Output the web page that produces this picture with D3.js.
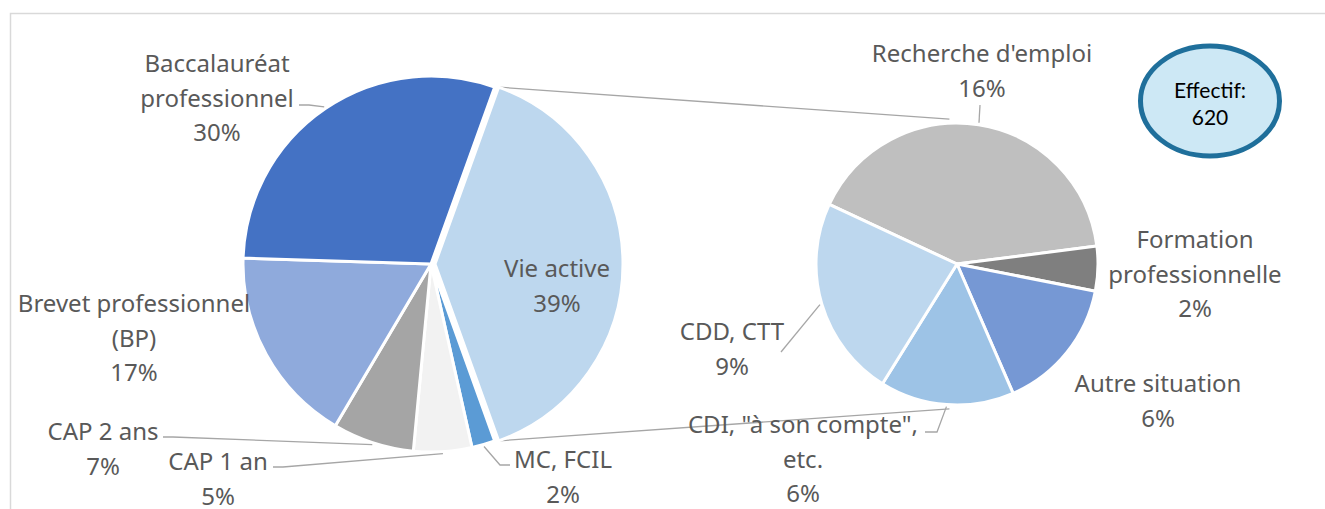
<!DOCTYPE html>
<html>
<head>
<meta charset="utf-8">
<script src="https://cdn.jsdelivr.net/npm/d3@7"></script>
<style>
  html, body { margin: 0; padding: 0; background: #fff; }
  svg { display: block; }
  .lbl { font-family: "Noto Sans", sans-serif; font-size: 24px; fill: #595959; }
  .eff { font-family: Lato, sans-serif; font-size: 21px; fill: #000; }
</style>
</head>
<body>
<svg id="chart" width="1325" height="509"></svg>
<script>
// first pie, clockwise from the "Vie active" slice
const leftCats = ['Vie active', 'MC, FCIL', 'CAP 1 an', 'CAP 2 ans', 'Brevet professionnel (BP)', 'Baccalauréat professionnel'];
const leftValues = [39, 2, 5, 7, 17, 30];
// second pie: breakdown of "Vie active"
const rightCats = ["Recherche d'emploi", 'Formation professionnelle', 'Autre situation', 'CDI, "à son compte", etc.', 'CDD, CTT'];
const rightValues = [16, 2, 6, 6, 9];
const effectif = 620;

const W = 1325, H = 509;
const svg = d3.select('#chart');

const leftColors = ['#BDD7EE', '#5B9BD5', '#F2F2F2', '#A5A5A5', '#8FAADC', '#4472C4'];
const rightColors = ['#BFBFBF', '#7F7F7F', '#7698D4', '#9DC3E6', '#BDD7EE'];

const L = { cx: 431, cy: 264, r: 188, explode: 4 };
const R = { cx: 957, cy: 264, r: 141 };

// label placement: centre x, first baseline, text lines
const layout = {
	'Vie active': { x: 557, y: 277, lines: ['Vie active'] },
	'MC, FCIL': { x: 563, y: 468, lines: ['MC, FCIL'], lead: [510, 465, -10] },
	'CAP 1 an': { x: 218, y: 470, lines: ['CAP 1 an'], lead: [273, 467, 10] },
	'CAP 2 ans': { x: 103, y: 440, lines: ['CAP 2 ans'], lead: [163, 437, 10] },
	'Brevet professionnel (BP)': { x: 134, y: 312, lines: ['Brevet professionnel', '(BP)'] },
	'Baccalauréat professionnel': { x: 217, y: 72, lines: ['Baccalauréat', 'professionnel'], lead: [299, 105, 10] },
	"Recherche d'emploi": { x: 982, y: 62, lines: ["Recherche d'emploi"], lead: [980, 105, 0] },
	'Formation professionnelle': { x: 1195, y: 248, lines: ['Formation', 'professionnelle'] },
	'Autre situation': { x: 1158, y: 392, lines: ['Autre situation'] },
	'CDI, "à son compte", etc.': { x: 803, y: 433, lines: ['CDI, "à son compte",', 'etc.'], lead: [925, 432, 12] },
	'CDD, CTT': { x: 732, y: 340, lines: ['CDD, CTT'], lead: [781, 352, 0] }
};
const LH = 34.5;

// chart frame
svg.append('rect')
	.attr('x', 10.5).attr('y', 13.5)
	.attr('width', W + 20).attr('height', H + 20)
	.attr('fill', 'none').attr('stroke', '#D9D9D9').attr('stroke-width', 1.5);

const total = d3.sum(leftValues);
const pct = d3.format('.0%');

const vieShare = leftValues[0] / total;
const leftPie = d3.pie().sort(null)
	.startAngle(Math.PI / 2 - vieShare * Math.PI)
	.endAngle(Math.PI / 2 - vieShare * Math.PI + 2 * Math.PI);
const rightStart = -65 * Math.PI / 180;
const rightPie = d3.pie().sort(null)
	.startAngle(rightStart).endAngle(rightStart + 2 * Math.PI);

const leftArcs = leftPie(leftValues).map((d, i) => ({ ...d, cat: leftCats[i], fill: leftColors[i] }));
const rightArcs = rightPie(rightValues).map((d, i) => ({ ...d, cat: rightCats[i], fill: rightColors[i] }));

const arcL = d3.arc().innerRadius(0).outerRadius(L.r);
const arcR = d3.arc().innerRadius(0).outerRadius(R.r);

const polar = (cx, cy, r, a) => [cx + r * Math.sin(a), cy - r * Math.cos(a)];

// connector lines between the two pies
const vie = leftArcs[0];
const vieMid = (vie.startAngle + vie.endAngle) / 2;
const ox = L.cx + L.explode * Math.sin(vieMid), oy = L.cy - L.explode * Math.cos(vieMid);
const conn = [
	[polar(ox, oy, L.r, vie.startAngle), polar(R.cx, R.cy, R.r + 4, -3 * Math.PI / 180)],
	[polar(ox, oy, L.r, vie.endAngle), polar(R.cx, R.cy, R.r + 4, 183 * Math.PI / 180)]
];
svg.append('g').selectAll('line').data(conn).join('line')
	.attr('x1', d => d[0][0]).attr('y1', d => d[0][1])
	.attr('x2', d => d[1][0]).attr('y2', d => d[1][1])
	.attr('stroke', '#A6A6A6').attr('stroke-width', 1.3);

// first pie
svg.append('g').selectAll('path').data(leftArcs).join('path')
	.attr('transform', (d, i) => i === 0 ? `translate(${ox},${oy})` : `translate(${L.cx},${L.cy})`)
	.attr('d', arcL)
	.attr('fill', d => d.fill)
	.attr('stroke', '#fff').attr('stroke-width', 3).attr('stroke-linejoin', 'round');

// second pie
svg.append('g').attr('transform', `translate(${R.cx},${R.cy})`)
	.selectAll('path').data(rightArcs).join('path')
	.attr('d', arcR)
	.attr('fill', d => d.fill)
	.attr('stroke', '#fff').attr('stroke-width', 3).attr('stroke-linejoin', 'round');

// leader lines
function leaderPath(d, cx, cy, r) {
	const lay = layout[d.cat];
	const mid = (d.startAngle + d.endAngle) / 2;
	const end = polar(cx, cy, r + 2, mid);
	const [x, y, dx] = lay.lead;
	return `M${x},${y}H${x + dx}L${end[0]},${end[1]}`;
}
const gLead = svg.append('g').attr('fill', 'none').attr('stroke', '#A6A6A6').attr('stroke-width', 1.3);
gLead.selectAll('path.l').data(leftArcs.filter(d => layout[d.cat].lead)).join('path')
	.attr('d', d => leaderPath(d, L.cx, L.cy, L.r));
gLead.selectAll('path.r').data(rightArcs.filter(d => layout[d.cat].lead)).join('path')
	.attr('d', d => leaderPath(d, R.cx, R.cy, R.r));

// data labels
const allArcs = leftArcs.map(d => ({ ...d, share: d.value / total }))
	.concat(rightArcs.map(d => ({ ...d, share: d.value / total })));
const lbl = svg.append('g').selectAll('text').data(allArcs).join('text')
	.attr('class', 'lbl')
	.attr('text-anchor', 'middle');
lbl.each(function (d) {
	const lay = layout[d.cat];
	const t = d3.select(this);
	lay.lines.concat([pct(d.share)]).forEach((s, k) => {
		t.append('tspan').attr('x', lay.x).attr('y', lay.y + k * LH).text(s);
	});
});

// Effectif bubble
const eff = svg.append('g').attr('transform', 'translate(1210,101)');
eff.append('ellipse')
	.attr('rx', 69.5).attr('ry', 55)
	.attr('fill', '#CDE8F5').attr('stroke', '#1F6F9B').attr('stroke-width', 5);
eff.append('text').attr('class', 'eff').attr('text-anchor', 'middle')
	.attr('y', -3).text('Effectif:');
eff.append('text').attr('class', 'eff').attr('text-anchor', 'middle')
	.attr('y', 24).text(effectif);
</script>
</body>
</html>
